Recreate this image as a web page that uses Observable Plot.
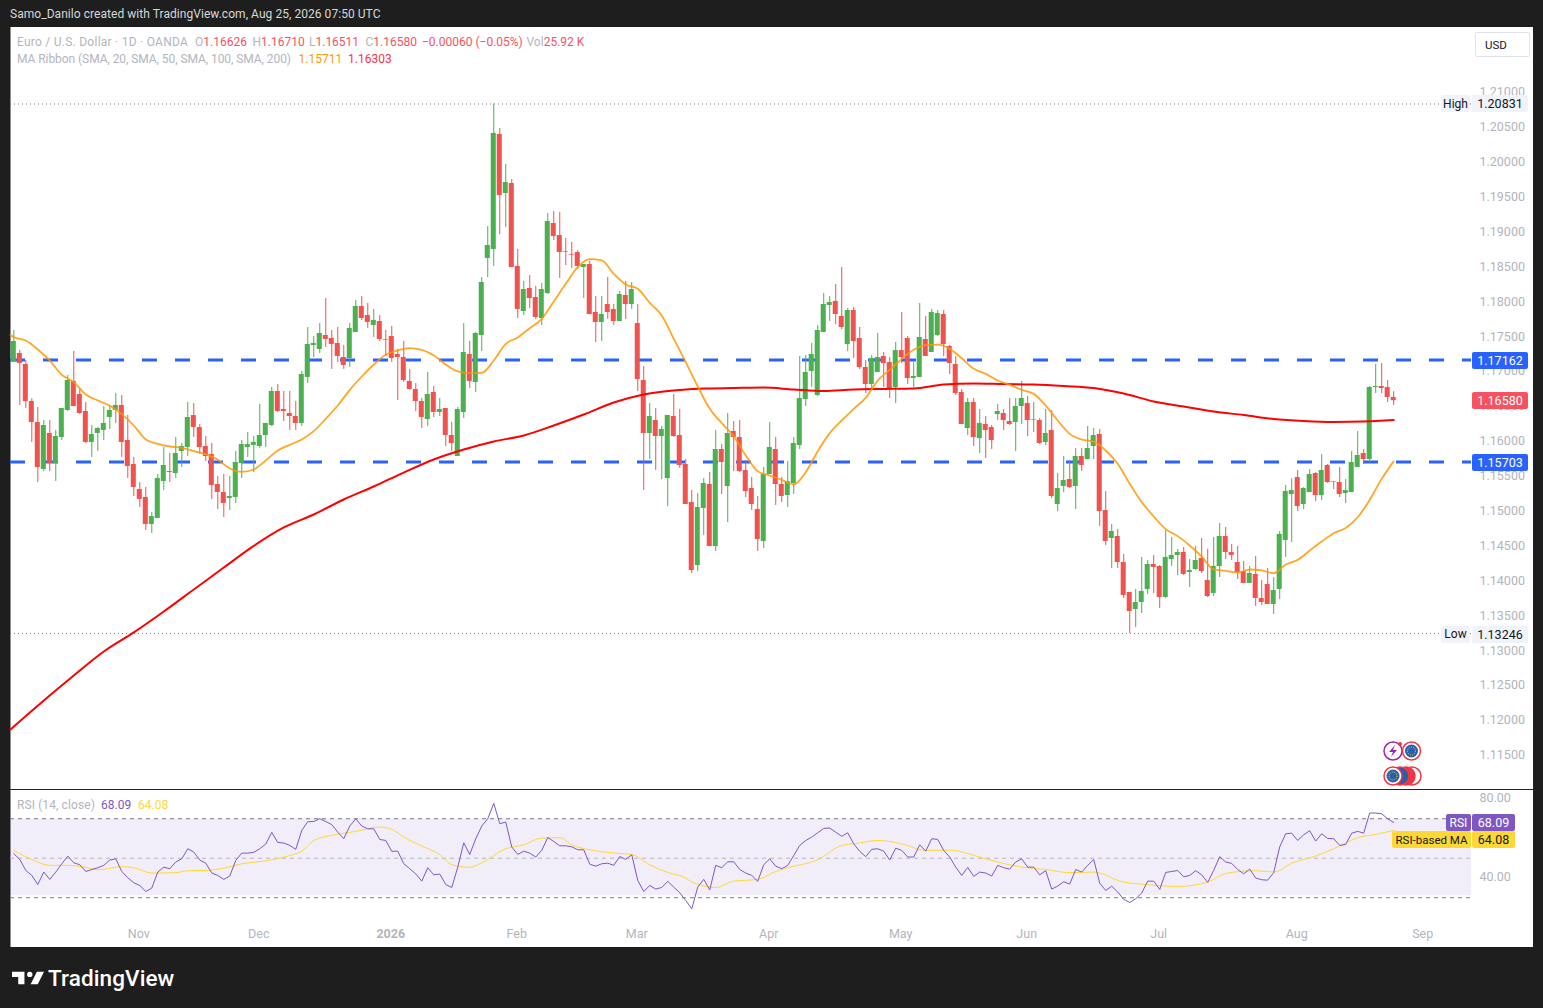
<!DOCTYPE html>
<html><head><meta charset="utf-8">
<script src="https://cdn.jsdelivr.net/npm/d3@7"></script>
<script src="https://cdn.jsdelivr.net/npm/@observablehq/plot@0.6"></script>
<style>
html,body{margin:0;padding:0;background:#1e1e1e;width:1543px;height:1008px;overflow:hidden;font-family:Roboto,"Liberation Sans",sans-serif}
#root{position:relative;width:1543px;height:1008px}
#panel{position:absolute;left:10px;top:27px;width:1523px;height:920px;background:#fff}
#edge{position:absolute;left:10px;top:27px;width:1px;height:920px;background:#8f8f8f}
#sep{position:absolute;left:10px;top:789px;width:1523px;height:1px;background:#1e222d}
.abs{position:absolute;white-space:nowrap}
.plot{position:absolute}
.tag{position:absolute;box-sizing:border-box;text-align:center;font-size:12.5px;border-radius:2px;display:flex;align-items:center;justify-content:center}
.g{color:#b2b5be}.r{color:#f7525f}
.h{font-size:12px;top:35px}.m{font-size:12px;top:52px}.s{font-size:12px;top:798px}
</style></head><body><div id="root">
<div class="abs" style="left:10px;top:7px;color:#d8d8d8;font-size:12px;letter-spacing:.05px">Samo_Danilo created with TradingView.com, Aug 25, 2026 07:50 UTC</div>
<div id="panel"></div><div id="edge"></div>
<div id="main" class="plot" style="left:10px;top:27px"></div>
<div id="rsi" class="plot" style="left:10px;top:790px"></div>
<div id="sep"></div>
<span class="abs g h" style="left:17px;letter-spacing:.25px">Euro / U.S. Dollar · 1D · OANDA</span>
<span class="abs g h" style="left:195px">O<span class="r">1.16626</span></span>
<span class="abs g h" style="left:252.5px">H<span class="r">1.16710</span></span>
<span class="abs g h" style="left:309px">L<span class="r">1.16511</span></span>
<span class="abs g h" style="left:365.5px">C<span class="r">1.16580</span></span>
<span class="abs r h" style="left:422px">−0.00060 (−0.05%)</span>
<span class="abs g h" style="left:526.5px">Vol<span class="r">25.92 K</span></span>
<span class="abs g m" style="left:17px;letter-spacing:-.06px">MA Ribbon (SMA, 20, SMA, 50, SMA, 100, SMA, 200)</span>
<span class="abs m" style="left:298.5px;color:#ff9800">1.15711</span>
<span class="abs m" style="left:348px;color:#f23645">1.16303</span>
<span class="abs g s" style="left:17px;letter-spacing:.1px">RSI (14, close)</span>
<span class="abs s" style="left:101px;color:#7e57c2">68.09</span>
<span class="abs s" style="left:138px;color:#fdd835">64.08</span>
<div class="tag" style="left:1475px;top:32px;width:55px;height:25px;border:1px solid #e0e3eb;color:#131722;font-size:11.5px;background:#fff;justify-content:flex-start;padding-left:9px">USD</div>
<div id="tags"></div>
<svg class="abs" style="left:1380px;top:738px" width="50" height="50" viewBox="0 0 50 50">
<circle cx="13" cy="13" r="9" fill="#fff" stroke="#9c27b0" stroke-width="1.5"/><path d="M15 7 L9 14 H13 L11 19 L17 12 H13 Z" fill="#9c27b0"/>
<circle cx="31.5" cy="13" r="9" fill="#fff" stroke="#f23645" stroke-width="1.5"/><circle cx="31.5" cy="13" r="6.5" fill="#2a5fb0"/><circle cx="31.5" cy="13" r="4" fill="none" stroke="#fdd835" stroke-width="1" stroke-dasharray="1 1.2"/>
<circle cx="20" cy="6" r="2" fill="#f23645"/>
<circle cx="32" cy="38" r="9" fill="#fff" stroke="#f23645" stroke-width="1.5"/><circle cx="26" cy="38" r="9" fill="#f23645" stroke="#f23645" stroke-width="1.5"/><circle cx="20" cy="38" r="9" fill="#2a5fb0" stroke="#f23645" stroke-width="1.5"/>
<circle cx="13" cy="38" r="9" fill="#fff" stroke="#f23645" stroke-width="1.5"/><circle cx="13" cy="38" r="6.5" fill="#2a5fb0"/><circle cx="13" cy="38" r="4" fill="none" stroke="#fdd835" stroke-width="1" stroke-dasharray="1 1.2"/>
</svg>
<svg class="abs" style="left:12px;top:970px" width="32" height="16" viewBox="0 0 36 18"><path d="M14 2H0v6h7v8h7z" fill="#fff"/><circle cx="20" cy="5" r="3" fill="#fff"/><path d="M28 2h8l-7 14h-8z" fill="#fff"/></svg>
<div class="abs" style="left:48px;top:965px;color:#fff;font-size:22.5px;font-weight:500;letter-spacing:.1px">TradingView</div>
</div>
<script>
// Prices in units of 0.00001, one entry per daily bar
const opens=[117133,117257,117099,116569,116268,115595,116111,115681,116053,116440,
116856,116669,116426,115982,116111,116154,116340,116440,116512,116010,
115666,115308,115194,114807,114893,115423,115566,115537,115853,115910,
116368,116196,115924,115810,115380,115265,115179,115194,115681,115910,
115939,115924,116082,116225,116712,116454,116397,116354,116254,116913,
117371,117314,117515,117472,117400,117199,117185,117558,117930,117801,
117658,117715,117457,117500,117242,117199,116856,116741,116569,116311,
116698,116411,116469,116082,115781,116411,117242,116841,117514,118618,
118747,120394,119549,119692,118503,117858,118188,118059,117758,118116,
119119,118947,118718,118675,118703,118489,118532,117844,117701,117958,
117887,117715,118087,117958,117686,116870,116110,116297,116067,115465,
116354,116082,115666,115122,114219,115036,115380,114491,115881,115351,
116139,116053,115580,115322,115021,114563,115523,115881,115380,115222,
115394,115938,116597,116999,116655,117557,117944,118002,117787,117385,
117872,117471,117056,116812,116984,117213,117127,116769,117299,117471,
116898,116912,117457,117271,117514,117815,117357,117099,116698,116182,
116554,116038,116239,116196,116382,116397,116282,116268,116497,116540,
116301,116296,115981,116153,115093,115351,115451,115351,115781,115738,
115924,116096,115007,114606,114635,114262,113833,113589,113689,113876,
114234,114205,113761,114305,114363,114406,114119,114162,114320,114005,
113818,114205,114635,114406,114262,114133,113962,114091,113747,113947,
113661,113876,114578,115236,115479,115093,115264,115537,115221,115651,
115413,115408,115250,115264,115623,115823,115737,116769,116783,116769,116626];
const highs=[117586,117300,117156,116607,116483,116297,116297,116154,116469,116942,
117285,116755,116555,116225,116196,116497,116512,116684,116655,116368,
115767,115408,115337,114979,115523,115910,115824,116053,115967,116555,
116540,116240,116068,115967,115494,115523,115494,115853,116010,116125,
116068,116526,116254,116770,116813,116712,116712,116569,116999,117629,
117500,117687,118045,117586,117629,117371,117687,118016,118073,117973,
117887,117801,117586,117644,117314,117429,117028,116827,116612,116985,
116784,116612,116469,116268,116483,117687,117429,117558,118345,119076,
120831,120480,119964,119749,118747,118288,118374,118216,118259,119262,
119291,119277,118904,118847,118732,118532,118575,118073,118073,118345,
117958,118145,118288,118274,117959,117070,116540,116468,116211,116368,
116669,116454,115738,115294,115251,115465,115551,116153,115953,116397,
116282,116297,115723,115480,115208,115623,116268,116053,115480,115709,
116053,117214,117228,117400,117658,118116,118073,118245,118489,117901,
117915,117629,117156,117228,117543,117271,117199,117414,117844,117500,
117127,117973,117786,117887,117872,117872,117371,117213,116741,116612,
116612,116454,116354,116225,116526,116454,116612,116612,116855,116640,
116554,116325,116454,116440,115537,115781,115723,115895,115895,116210,
116182,116168,115280,114807,114735,114377,113833,113876,114334,114291,
114363,114219,114721,114621,114449,114477,114305,114492,114606,114449,
114621,114821,114764,114520,114492,114277,114205,114348,114005,114176,
114047,114707,115366,115460,115580,115336,115594,115551,115809,115666,
115422,115623,115451,115852,116138,115881,116783,117098,117113,116869,116710];
const lows=[117133,116512,116469,115982,115408,115566,115566,115423,116010,116426,
116497,116383,115967,115767,115853,116010,116168,116254,115767,115466,
115208,115050,114721,114678,114893,115294,115408,115466,115623,115781,
116053,115810,115709,115165,115022,114907,115007,115108,115466,115767,
115552,115896,115910,116211,116411,116282,116154,116154,116211,116827,
117199,117257,117343,117028,117128,117028,117056,117558,117730,117615,
117486,117429,117214,117128,116583,116841,116727,116426,116182,116211,
116340,116354,115924,115853,115781,116325,116755,116698,117285,118345,
118503,118961,119062,118489,117758,117801,117901,117744,117658,118102,
118875,118331,118517,118474,118460,118044,117815,117414,117428,117744,
117658,117715,117744,117887,116712,115294,115738,115580,115451,115064,
116053,115609,115093,114104,114133,114649,114491,114420,115236,114835,
115566,115551,115193,115007,114420,114463,115523,115079,115122,115050,
115236,115881,116497,116769,116640,117557,117715,117672,117600,117285,
117185,117027,116683,116726,116984,116769,116612,116540,117113,116812,
116769,116912,117213,117271,117500,117213,116955,116655,116239,116081,
115924,115824,115752,115881,116296,116153,116225,115852,116239,116067,
116124,115953,115938,115179,114992,115265,115322,115021,115566,115738,
115738,114778,114506,114176,114176,113747,113246,113331,113532,113804,
113818,113603,113747,114205,114076,114076,113904,114148,114105,113761,
113775,114047,114305,114291,114019,113962,113962,113632,113646,113661,
113517,113732,114334,114548,114992,115021,115264,115135,115150,115393,
115307,115193,115107,115264,115623,115666,115694,116683,116683,116554,116511];
const closes=[117429,117114,116569,116268,115623,116225,115681,116068,116469,116870,
116497,116397,115982,116096,116182,116254,116440,116512,115982,115638,
115337,115165,114807,114921,115466,115652,115552,115824,115924,116340,
116196,115910,115781,115365,115265,115108,115208,115695,115953,115953,
115982,116082,116254,116712,116426,116426,116354,116254,116956,117386,
117400,117543,117457,117386,117214,117085,117615,117930,117758,117701,
117730,117457,117447,117185,117199,116870,116741,116569,116340,116669,
116411,116454,116082,115967,116454,117271,116856,117543,118274,118804,
120409,119520,119706,118489,117887,118173,118044,117772,118173,119148,
118933,118703,118708,118665,118503,118532,117815,117701,117815,117844,
117715,118102,117958,118173,116884,116110,116354,116067,116168,116368,
116067,115652,115093,114147,115050,115394,114491,115881,115695,116110,
116053,115566,115279,115093,114592,115523,115910,115380,115208,115422,
115967,116612,116984,117242,117586,117959,117987,117815,117629,117873,
117428,117056,116812,117185,117199,117113,116741,117299,117199,116898,
116927,117486,117213,117844,117829,117385,117113,116683,116239,116554,
116053,116253,116153,116010,116425,116296,116239,116497,116612,116296,
116311,115967,116110,115207,115322,115437,115336,115781,115652,115895,
116081,114993,114563,114707,114262,113790,113560,113689,113847,114234,
114191,113761,114334,114363,114406,114091,114148,114291,114133,113775,
114205,114635,114406,114363,114119,113962,114105,113747,113689,113661,
113861,114664,115280,115293,115064,115322,115522,115221,115580,115408,
115422,115236,115293,115694,115795,115737,116769,116783,116755,116626,116580];
// MA20, read every 2nd bar
const ma20=[117491,117443,117314,117156,116951,116846,116669,116583,116507,116388,116225,116025,115962,115924,115905,115857,115810,115733,115609,115561,115595,115724,115867,115948,116025,116144,116321,116512,116736,116927,117099,117238,117300,117333,117309,117228,117099,116999,116975,116979,117156,117395,117486,117619,117753,118001,118255,118493,118608,118589,118398,118245,118183,117982,117801,117467,117132,116784,116464,116258,116072,115795,115571,115508,115446,115380,115556,115857,116115,116297,116464,116621,116869,117022,117180,117309,117376,117385,117323,117189,117037,116965,116869,116807,116736,116678,116511,116296,116105,116024,115995,115867,115676,115390,115127,114922,114740,114640,114506,114348,114162,114143,114119,114162,114148,114109,114233,114300,114433,114562,114682,114758,114911,115159,115460,115711];
// MA200, read every 5th bar
const ma200=[111912,112285,112643,112987,113260,113560,113875,114190,114500,114764,114950,115165,115351,115551,115738,115881,115996,116082,116225,116382,116554,116669,116726,116755,116762,116769,116741,116719,116741,116748,116755,116812,116827,116819,116812,116791,116762,116683,116569,116497,116425,116375,116318,116289,116275,116282,116303];
// Both averages at the chart's left edge, just before the first whole bar
const ma20Edge=117520, ma200Edge=111869, edgeBar=-0.55;
const rsi=[52.3,49.4,43.8,41.3,36.7,43,39.3,43,47.2,51.1,47.7,46.7,43.3,44.3,45.2,46.4,49.1,49.7,43.3,40.1,
37.6,36.2,33.2,34.9,43,45.5,44.7,48.1,49.7,54.8,53.1,49.1,47.5,42.5,41.3,39.3,41,48.9,52.6,52.6,
53,54.8,57.2,63.1,58,57.7,56.5,54.5,64.1,68.5,68.6,70,68.6,67,63.2,59.9,66.3,70,66.3,64.9,
64.9,59.5,59,53.5,53.6,47.2,44.7,42.1,38.4,45.2,41.6,42,36.7,35.2,45.5,57.8,51.9,59.9,66.3,70,
77.8,67.5,68.3,55.7,51.9,53.6,52.6,50.6,54,60.5,58.5,56.3,56.3,55.8,54.3,54.3,47,46,47.2,47.5,
46.4,50.9,49.4,51.8,38.8,33.2,36.2,34.4,35.2,38.3,35.4,32.5,28.6,24.4,35.4,39.3,34,46.4,45.2,48.2,
48.2,44.3,42.5,41.3,38.3,46.7,49.7,46,44.7,46.4,51.4,56.5,59,60.7,62.9,65.1,65.3,63.2,61.1,62.9,
57.3,53.5,50.8,54.5,54.8,53.6,49.1,55.1,54,50.6,50.6,56.8,53.6,59.9,59.5,54,50.6,45.5,41.3,45.4,
40.8,43,42.5,41,46.4,45.2,44.5,48.1,49.7,45.5,45.5,41.6,43.7,34.4,35.9,38.1,36.9,44.3,43,46.4,
49.4,37.4,33.7,35.9,32.9,29.2,27.6,29.5,32.4,38.4,38.4,34.2,42.8,43.3,43.8,40.6,41.3,43.7,41.6,37.8,
43.8,50.8,48.1,47.4,44.3,42.1,44.5,40,39.1,38.9,42.7,55.7,62.4,62.7,59,61.9,63.9,58.7,62.4,60,
59.9,56.5,57,62.7,63.6,62.7,72.9,72.9,72.5,70,68.09];
const rsiMaBar=[0,3,6,9,12,14,18,20,23,27,29,32,35,38,42,46,48,50,53,57,61,63,65,68,71,73,76,78,82,85,88,91,93,97,101,103,106,109,112,113,117,120,124,127,129,134,138,141,144,148,152,156,161,164,168,172,176,180,185,188,194,199,202,207,210,213,217,221,224,227,230];
const rsiMaVal=[54,49.4,46.4,46.4,45.4,44.2,45.7,45.2,42.5,42.7,43.7,43.8,45,47.2,48.7,51.4,53.6,59,61.6,63.6,65.8,64.6,60.7,56.2,51.8,46.7,45.4,47.7,54.8,56.8,60.2,60.4,56.8,53.8,52.4,51.9,46.7,42.8,40,38,35.2,38.4,39.3,43.3,45.2,49.2,56.5,57.7,59,57.3,54,54.1,50.6,48.1,45.5,44.3,42.7,43,37.9,36.9,35.7,37.9,42.3,43.7,43,47.5,51.1,56.2,60.4,62.1,64.08];
const priceTicks=[1.115,1.12,1.125,1.13,1.135,1.14,1.145,1.15,1.155,1.16,1.165,1.17,1.175,1.18,1.185,1.19,1.195,1.20,1.205,1.21];
const rsiTicks=[40,80];
const monthBars=[21,41,63,84,104,126,148,169,191,214,235];
const monthLabels=["Nov","Dec","2026","Feb","Mar","Apr","May","Jun","Jul","Aug","Sep"];
const levelUpper=1.17162, levelLower=1.15703, lastClose=1.16580, highPrice=1.20831, lowPrice=1.13246;

const UP="#4caf50", DOWN="#ef5350", W=1523;
const xDomain=[-0.55,242.97];
const bars=opens.map((o,i)=>({i,o:o/1e5,h:highs[i]/1e5,l:lows[i]/1e5,c:closes[i]/1e5,col:closes[i]>=o?UP:DOWN}));
const ma20Pts=[{i:edgeBar,v:ma20Edge/1e5},...ma20.map((v,i)=>({i:i*2,v:v/1e5}))];
const ma200Pts=[{i:edgeBar,v:ma200Edge/1e5},...ma200.map((v,i)=>({i:i*5,v:v/1e5}))];
const rsiPts=rsi.map((v,i)=>({i,v}));
const rsiMaPts=rsiMaBar.map((i,j)=>({i,v:rsiMaVal[j]}));
const font={background:"transparent",fontFamily:"Roboto,'Liberation Sans',sans-serif",fontSize:"12.5px",overflow:"visible"};

const main=Plot.plot({width:W,height:762,marginLeft:0,marginRight:62,marginTop:0,marginBottom:0,style:font,
 x:{domain:xDomain,axis:null},
 y:{domain:[1.1101,1.21927],range:[762,0],axis:null},
 marks:[
  Plot.ruleY([highPrice,lowPrice],{stroke:"#787b86",strokeWidth:1,strokeDasharray:"1 3"}),
  Plot.ruleY([levelUpper,levelLower],{stroke:"#2962ff",strokeWidth:3,strokeDasharray:"15 18"}),
  Plot.ruleX(bars,{x:"i",y1:"l",y2:"h",stroke:"col",strokeWidth:1}),
  Plot.rect(bars,{x1:d=>d.i-0.42,x2:d=>d.i+0.42,y1:"o",y2:"c",fill:"col"}),
  Plot.line(ma200Pts,{x:"i",y:"v",stroke:"#ff0000",strokeWidth:2,curve:"monotone-x"}),
  Plot.line(ma20Pts,{x:"i",y:"v",stroke:"#ff9800",strokeWidth:1.8,curve:"monotone-x",strokeOpacity:.85}),
  Plot.axisY({anchor:"right",ticks:priceTicks,tickFormat:d=>d.toFixed(5),tickSize:0,tickPadding:8,label:null,color:"#b2b5be"})
 ]});
document.getElementById("main").append(main);

const rsiChart=Plot.plot({width:W,height:157,marginLeft:0,marginRight:62,marginTop:0,marginBottom:30,style:font,
 x:{domain:xDomain,axis:null},
 y:{domain:[20,84.3],range:[127,0],axis:null},
 marks:[
  Plot.rect([0],{y1:()=>31,y2:()=>70,fill:"#7e57c2",fillOpacity:.1}),
  Plot.ruleY([70,30],{stroke:"#787b86",strokeWidth:1,strokeDasharray:"4 4"}),
  Plot.ruleY([50],{stroke:"#b2b5be",strokeWidth:1,strokeDasharray:"4 4"}),
  Plot.line(rsiMaPts,{x:"i",y:"v",stroke:"#fdd835",strokeWidth:1,curve:"monotone-x"}),
  Plot.line(rsiPts,{x:"i",y:"v",stroke:"#7e57c2",strokeWidth:1}),
  Plot.axisY({anchor:"right",ticks:rsiTicks,tickFormat:d=>d.toFixed(2),tickSize:0,tickPadding:8,label:null,color:"#b2b5be",dy:-1}),
  Plot.axisX({anchor:"bottom",ticks:monthBars,tickFormat:k=>monthLabels[monthBars.indexOf(k)],tickSize:0,tickPadding:12,label:null,color:"#b2b5be",dx:-1})
 ]});
document.getElementById("rsi").append(rsiChart);
rsiChart.querySelectorAll("text").forEach(t=>{if(t.textContent==="2026"){t.setAttribute("font-weight","bold");}});

// Value tags on the price scale
const yP=main.scale("y"), tags=document.getElementById("tags");
function tag(txt,left,width,cy,h,bg,fg,off,fs){const d=document.createElement("div");d.className="tag";d.textContent=txt;
 d.style.cssText=`left:${left}px;top:${cy+off-h/2}px;width:${width}px;height:${h}px;background:${bg};color:${fg}`+(fs?`;font-size:${fs}px`:"");tags.append(d);}
const V=v=>v.toFixed(5);
tag(V(levelUpper),1472,56,yP.apply(levelUpper),17,"#2962ff","#fff",28);
tag(V(levelLower),1472,56,yP.apply(levelLower),17,"#2962ff","#fff",28);
tag(V(lastClose),1472,56,yP.apply(lastClose),17,"#f7525f","#fff",27.5);
tag(V(highPrice),1472,56,yP.apply(highPrice),17,"#f0f3fa","#131722",27);
tag("High",1441,29,yP.apply(highPrice),17,"#f0f3fa","#131722",27,12);
tag(V(lowPrice),1472,56,yP.apply(lowPrice),17,"#f0f3fa","#131722",28.5);
tag("Low",1441,29,yP.apply(lowPrice),17,"#f0f3fa","#131722",28.5,12);
tag("RSI",1446,25,822.5,17,"#7e57c2","#fff",0,12);
tag("68.09",1472,43,822.5,17,"#7e57c2","#fff",0);
tag("RSI-based MA",1392,79,839.5,17,"#fdd835","#131722",0,11.5);
tag("64.08",1472,43,839.5,17,"#fdd835","#131722",0);
</script></body></html>
